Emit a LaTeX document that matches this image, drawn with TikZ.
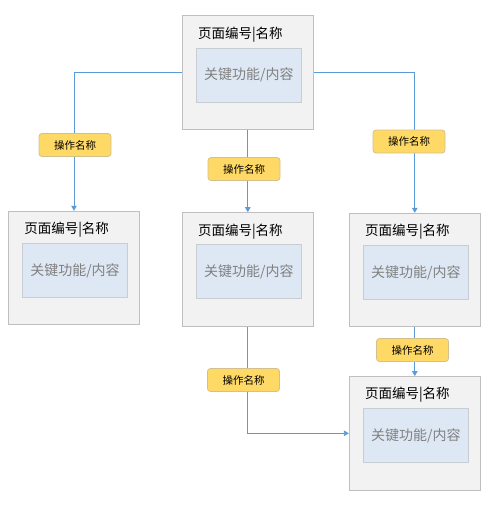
\documentclass[tikz,border=0pt]{standalone}
\usepackage{fontspec}
\setmainfont{Noto Sans CJK SC}
\usepackage{tikz}
\usetikzlibrary{arrows.meta}
\definecolor{pagefill}{HTML}{F2F2F2}
\definecolor{pageline}{HTML}{BFBFBF}
\definecolor{funcfill}{HTML}{DEE8F4}
\definecolor{funcline}{HTML}{C8CDD4}
\definecolor{actfill}{HTML}{FFD966}
\definecolor{actline}{HTML}{D2C08E}
\definecolor{flowline}{HTML}{5B9BD5}
\tikzset{
    page/.style={draw=pageline, fill=pagefill, line width=0.9pt, minimum width=131pt, minimum height=113.5pt, inner sep=0pt},
    pagetitle/.style={anchor=west, inner sep=0pt, font=\fontsize{13.5}{16}\selectfont},
    func/.style={draw=funcline, fill=funcfill, line width=0.9pt, minimum width=105pt, minimum height=54pt, inner sep=0pt, text=black!50, font=\fontsize{14}{17}\selectfont},
    act/.style={draw=actline, fill=actfill, line width=0.8pt, rounded corners=3pt, minimum width=72pt, minimum height=23pt, inner sep=0pt, font=\fontsize{10.5}{12}\selectfont},
    flow/.style={draw=flowline, line width=0.8pt, -{Triangle[width=5.5pt,length=5pt]}}
}
\newcommand{\pagebox}[3]{%
    \node[page] (#1) at (#2,#3) {};
    \node[pagetitle] (#1-title) at ([xshift=16pt,yshift=-19pt]#1.north west) {页面编号|名称};
    \node[func] (#1-func) at ([xshift=1pt,yshift=-2.5pt]#1.center) {关键功能/内容};
}

\begin{document}
\begin{tikzpicture}[x=1pt, y=-1pt]
            \useasboundingbox (0,0) rectangle (503,506);
            % pages
            \pagebox{home}{247.8}{72.5}
            \pagebox{left}{74}{268}
            \pagebox{mid}{247.8}{269.4}
            \pagebox{right}{414.8}{270}
            \pagebox{last}{414.8}{433.3}
            % flows
            \draw[flow] (home.west) -| (left.north);
            \draw[flow] (home.south) -- (mid.north);
            \draw[flow] (home.east) -| (right.north);
            \draw[flow] (right.south) -- (last.north);
            \draw[flow] (mid.south) |- (last.west);
            % actions
            \node[act] (act-left) at (75,145) {操作名称};
            \node[act] (act-mid) at (244,169) {操作名称};
            \node[act] (act-right) at (409,141.5) {操作名称};
            \node[act] (act-last) at (412.5,350) {操作名称};
            \node[act] (act-down) at (243.5,380) {操作名称};
        \end{tikzpicture}
\end{document}
